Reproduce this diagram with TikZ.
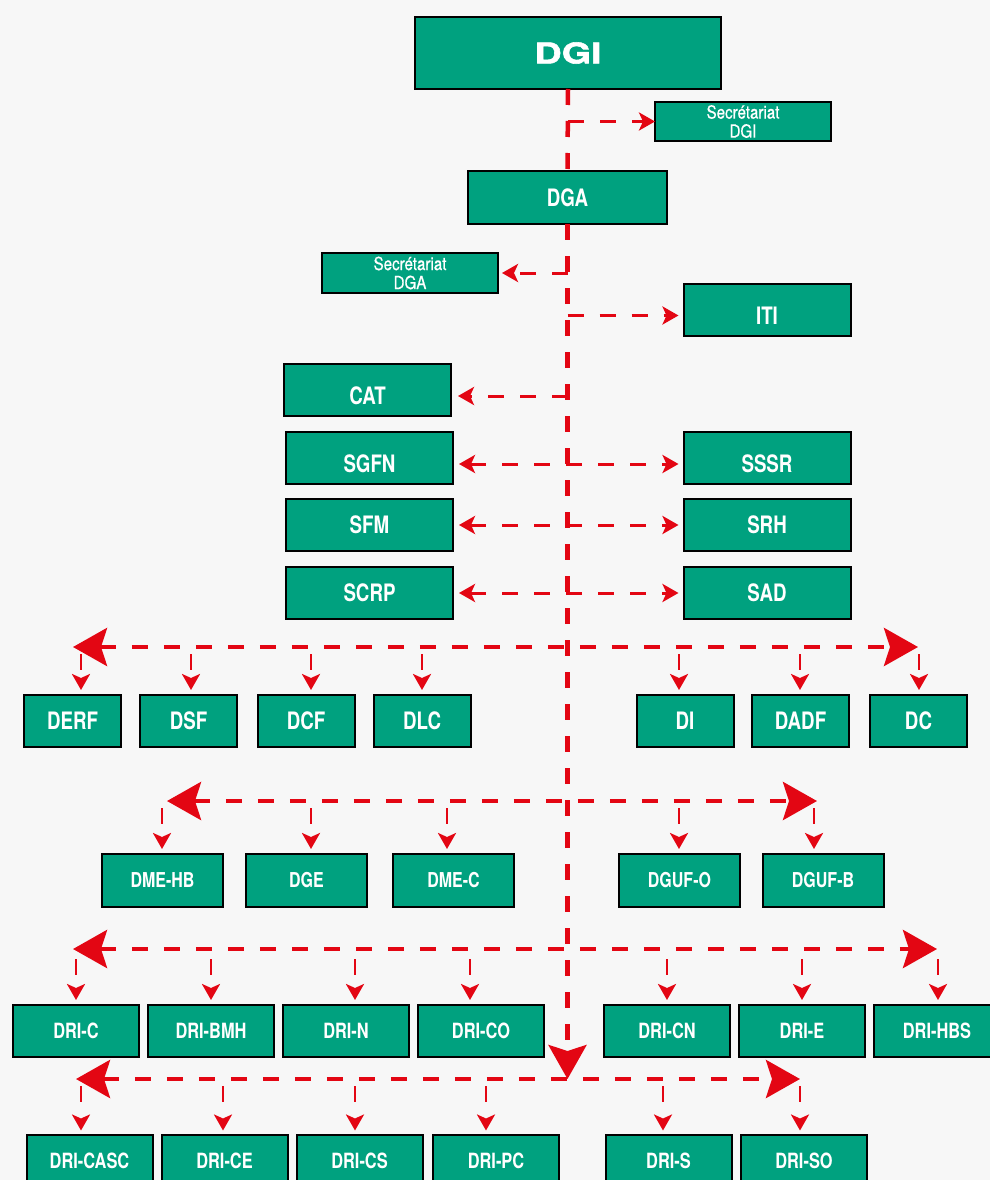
\documentclass[tikz,border=0pt]{standalone}
\usepackage{fontspec}
\setmainfont{TeX Gyre Heros}
\newfontfamily\condfont{TeX Gyre Heros}[FakeStretch=0.78]
\newfontfamily\seccfont{TeX Gyre Heros}[FakeStretch=0.84, FakeBold=0.6]
\newfontfamily\widefont{TeX Gyre Heros Bold}[FakeStretch=1.32, FakeBold=2]
\usetikzlibrary{arrows.meta,calc}

\definecolor{c00a17f}{RGB}{0,161,127}
\definecolor{ce30613}{RGB}{227,6,19}
\definecolor{cf7f7f7}{RGB}{247,247,247}

\begin{document}
\begin{tikzpicture}[x=1pt, y=-1pt, inner sep=0pt, outer sep=0pt,
  box/.style={draw=black, line width=2pt, fill=c00a17f, text=white,
    font=\condfont\bfseries\fontsize{24}{24}\selectfont},
  topbox/.style={box, minimum width=167pt, minimum height=52pt},
  low/.style={text height=29pt, text depth=0pt},
  secbox/.style={box, minimum width=176pt, minimum height=39pt, align=center,
    font=\seccfont\fontsize{18}{19}\selectfont},
  dirbox/.style={box, minimum width=97pt, minimum height=52pt},
  subbox/.style={box, minimum width=121pt, minimum height=53pt,
    font=\condfont\bfseries\fontsize{20.5}{20.5}\selectfont},
  dribox/.style={box, minimum width=126pt, minimum height=52pt,
    font=\condfont\bfseries\fontsize{21}{21}\selectfont},
  trunk/.style={draw=ce30613, line width=4.5pt, dash pattern=on 16pt off 16pt,
    >={Stealth[length=34pt, width=38pt, inset=6pt]}},
  link/.style={draw=ce30613, line width=3pt, dash pattern=on 16pt off 16pt,
    >={Stealth[length=16pt, width=18pt, inset=4pt]}},
  drop/.style={link, line width=2.8pt, dash pattern=on 16pt off 40pt, ->}]

  \useasboundingbox (0,0) rectangle (990,1180);
  \clip (0,0) rectangle (990,1180);
  \fill[cf7f7f7] (0,0) rectangle (990,1180);

  % direction
  \node[box, minimum width=306pt, minimum height=72pt,
    font=\widefont\fontsize{28.5}{28.5}\selectfont] (dgi) at (568,53) {DGI};
  \node[secbox] (secdgi) at (743,121.5) {Secrétariat\\DGI};
  \node[box, minimum width=199pt, minimum height=53pt] (dga) at (567.5,197.5) {DGA};
  \node[secbox, minimum height=40pt] (secdga) at (410,273) {Secrétariat\\DGA};
  \node[topbox, low] (iti) at (767,309.5) {ITI};
  \node[topbox, low] (cat) at (367.5,390) {CAT};
  \node[topbox, low] (sgfn) at (369.5,458) {SGFN};
  \node[topbox, low] (sssr) at (767,458) {SSSR};
  \node[topbox] (sfm) at (369.5,525) {SFM};
  \node[topbox] (srh) at (767,525) {SRH};
  \node[topbox] (scrp) at (369.5,593) {SCRP};
  \node[topbox] (sad) at (767,593) {SAD};

  % directions and services
  \foreach \n/\t/\x in {derf/DERF/72.5, dsf/DSF/188.5, dcf/DCF/306, dlc/DLC/422,
      di/DI/685, dadf/DADF/800.5, dc/DC/918.5}
    \node[dirbox] (\n) at (\x,721) {\t};
  \foreach \n/\t/\x in {dmehb/DME-HB/162.5, dge/DGE/306.5, dmec/DME-C/453.5,
      dgufo/DGUF-O/679.5, dgufb/DGUF-B/823}
    \node[subbox] (\n) at (\x,880.5) {\t};
  \foreach \n/\t/\x in {dric/DRI-C/76, dribmh/DRI-BMH/211, drin/DRI-N/346,
      drico/DRI-CO/481, dricn/DRI-CN/667, drie/DRI-E/802, drihbs/DRI-HBS/937}
    \node[dribox] (\n) at (\x,1031) {\t};
  \foreach \n/\t/\x in {dricasc/DRI-CASC/89.5, drice/DRI-CE/224.5, drics/DRI-CS/359.5,
      dripc/DRI-PC/496, dris/DRI-S/668.5, driso/DRI-SO/804}
    \node[dribox] (\n) at (\x,1160.5) {\t};

  % bars
  \coordinate (r1l) at (73,647);   \coordinate (r1r) at (918,647);
  \coordinate (r2l) at (167,801);  \coordinate (r2r) at (817,801);
  \coordinate (r3l) at (73,949);   \coordinate (r3r) at (937,949);
  \coordinate (r4l) at (76,1079);  \coordinate (r4r) at (800,1079);

  \draw[trunk] (dgi.south) -- (dga.north);
  \draw[trunk, ->] (dga.south) -- (dga.south |- r4l);
  \draw[trunk, <->] (r1l) -- (r1r);
  \draw[trunk, <->] (r2l) -- (r2r);
  \draw[trunk, <->] (r3l) -- (r3r);
  \draw[trunk, <->] (r4l) -- (r4r);

  % links off the trunk
  \draw[link, ->] (dgi.south |- secdgi.west) -- (secdgi.west);
  \draw[link, ->, shorten >=4pt] (dga.south |- secdga.east) -- (secdga.east);
  \draw[link, ->, shorten >=5pt] ($(dga.south |- iti.west)+(0,6)$) -- ($(iti.west)+(0,6)$);
  \draw[link, ->, shorten >=7pt] ($(dga.south |- cat.east)+(0,6)$) -- ($(cat.east)+(0,6)$);
  \draw[link, <->, shorten <=6pt, shorten >=5pt] ($(sgfn.east)+(0,6)$) -- ($(sssr.west)+(0,6)$);
  \draw[link, <->, shorten <=6pt, shorten >=5pt] (sfm.east) -- (srh.west);
  \draw[link, <->, shorten <=6pt, shorten >=5pt] (scrp.east) -- (sad.west);

  % drops
  \foreach \n/\dx in {derf/8.5, dsf/2.5, dcf/5, dlc/0, di/-6, dadf/-0.5, dc/0.5}
    \draw[drop] ($(\n.north |- r1l)+(\dx,7)$) -- ($(\n.north)+(\dx,-5)$);
  \foreach \n/\dx in {dmehb/-0.5, dge/4.5, dmec/-6.5, dgufo/-0.5, dgufb/-9}
    \draw[drop] ($(\n.north |- r2l)+(\dx,7)$) -- ($(\n.north)+(\dx,-5)$);
  \foreach \n/\dx in {dric/0, dribmh/0, drin/9, drico/-11, dricn/0, drie/0, drihbs/1}
    \draw[drop] ($(\n.north |- r3l)+(\dx,10)$) -- ($(\n.north)+(\dx,-5)$);
  \foreach \n/\dx in {dricasc/-8.5, drice/-1.5, drics/-4.5, dripc/-10, dris/-5.5, driso/-4}
    \draw[drop] ($(\n.north |- r4l)+(\dx,7)$) -- ($(\n.north)+(\dx,-4)$);

\end{tikzpicture}
\end{document}
